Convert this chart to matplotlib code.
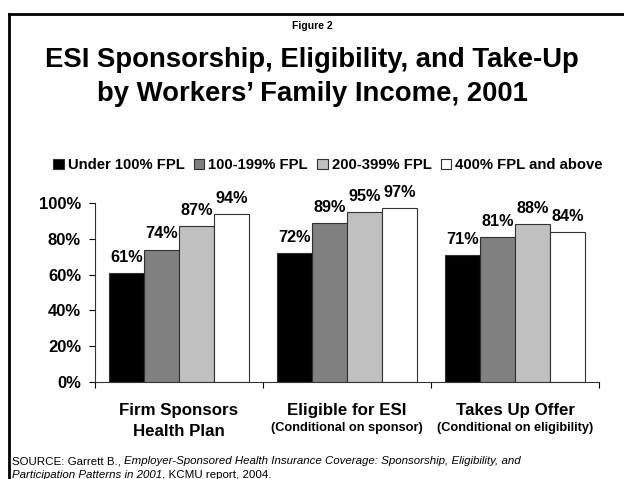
import matplotlib
matplotlib.use("Agg")
import matplotlib.pyplot as plt
import numpy as np
from matplotlib.patches import Patch
from matplotlib.lines import Line2D

plt.rcParams['font.family'] = ['Liberation Sans', 'DejaVu Sans']

categories = ["Firm Sponsors\nHealth Plan", "Eligible for ESI", "Takes Up Offer"]
subtitles = ["", "(Conditional on sponsor)", "(Conditional on eligibility)"]
series_names = ["Under 100% FPL", "100-199% FPL", "200-399% FPL", "400% FPL and above"]
values = {
    "Under 100% FPL": [61, 72, 71],
    "100-199% FPL": [74, 89, 81],
    "200-399% FPL": [87, 95, 88],
    "400% FPL and above": [94, 97, 84],
}
colors = ["#000000", "#808080", "#c0c0c0", "#ffffff"]
yticks = [0, 20, 40, 60, 80, 100]
ytick_labels = ["0%", "20%", "40%", "60%", "80%", "100%"]

W, H = 624, 479
fig = plt.figure(figsize=(W / 100, H / 100), dpi=100)
fig.patch.set_facecolor("white")

# frame
fig.add_artist(Line2D([9 / W, 9 / W], [0, 1 - 14 / H], color="black", lw=2,
                      transform=fig.transFigure))
fig.add_artist(Line2D([9 / W, 1], [1 - 14 / H, 1 - 14 / H], color="black", lw=2,
                      transform=fig.transFigure))

ax = fig.add_axes([95 / W, 1 - 382 / H, (599 - 95) / W, (382 - 203) / H])
x = np.arange(len(categories))
bw = 0.208
offsets = (np.arange(4) - 1.5) * bw
for i, name in enumerate(series_names):
    ax.bar(x + offsets[i], values[name], width=bw, color=colors[i],
           edgecolor="#303030", linewidth=0.8, zorder=2)
    for xi, v in zip(x + offsets[i], values[name]):
        ax.text(xi, v + 4.5, f"{v}%", ha="center", va="bottom",
                fontsize=11.7, fontweight="bold")

ax.set_xlim(-0.5, 2.5)
ax.set_ylim(0, 100)
ax.set_yticks(yticks)
ax.set_yticklabels(ytick_labels, fontsize=12, fontweight="bold")
ax.set_xticks([-0.5, 0.5, 1.5, 2.5])
ax.set_xticklabels([])
ax.tick_params(axis="x", direction="out", length=4, width=0.8, color="black")
ax.tick_params(axis="y", direction="out", length=4, width=0.8, pad=6)
for s in ["top", "right"]:
    ax.spines[s].set_visible(False)
for s in ["left", "bottom"]:
    ax.spines[s].set_linewidth(0.8)
    ax.spines[s].set_color("#333333")

# category labels
for xi, cat, sub in zip(x, categories, subtitles):
    lines = cat.split("\n")
    xf = (95 + (xi + 0.5) / 3 * (599 - 95)) / W
    fig.text(xf, 1 - 410 / H, lines[0], ha="center", va="center",
             fontsize=12.2, fontweight="bold")
    if len(lines) > 1:
        fig.text(xf, 1 - 432 / H, lines[1], ha="center", va="center",
                 fontsize=12.2, fontweight="bold")
    if sub:
        fig.text(xf, 1 - 428 / H, sub, ha="center", va="center",
                 fontsize=9.2, fontweight="bold")

# titles
fig.text(0.5, 1 - 26 / H, "Figure 2", ha="center", va="center",
         fontsize=7.5, fontweight="bold")
fig.text(0.5, 1 - 60 / H, "ESI Sponsorship, Eligibility, and Take-Up",
         ha="center", va="center", fontsize=19.8, fontweight="bold")
fig.text(0.5, 1 - 94 / H, "by Workers\u2019 Family Income, 2001",
         ha="center", va="center", fontsize=19.8, fontweight="bold")

# legend
handles = [Patch(facecolor=c, edgecolor="#303030", linewidth=0.8) for c in colors]
fig.legend(handles, series_names, loc="center", bbox_to_anchor=(328 / W, 1 - 165 / H),
           ncol=4, frameon=False, prop={"weight": "bold", "size": 10.7},
           handlelength=0.72, handleheight=0.72, handletextpad=0.27,
           columnspacing=0.6, borderpad=0)

# source
fig.canvas.draw()
renderer = fig.canvas.get_renderer()
pieces = [("SOURCE: Garrett B., ", "normal"),
          ("Employer-Sponsored Health Insurance Coverage: Sponsorship, Eligibility, and", "italic")]
xpos = 12
for txt, st in pieces:
    t = fig.text(xpos / W, 1 - 461 / H, txt, ha="left", va="center",
                 fontsize=8.25, style=st)
    xpos += t.get_window_extent(renderer).width
pieces2 = [("Participation Patterns in 2001", "italic"), (", KCMU report, 2004.", "normal")]
xpos = 12
for txt, st in pieces2:
    t = fig.text(xpos / W, 1 - 475 / H, txt, ha="left", va="center",
                 fontsize=8.25, style=st)
    xpos += t.get_window_extent(renderer).width

fig.savefig("out.png", dpi=100, facecolor="white")
